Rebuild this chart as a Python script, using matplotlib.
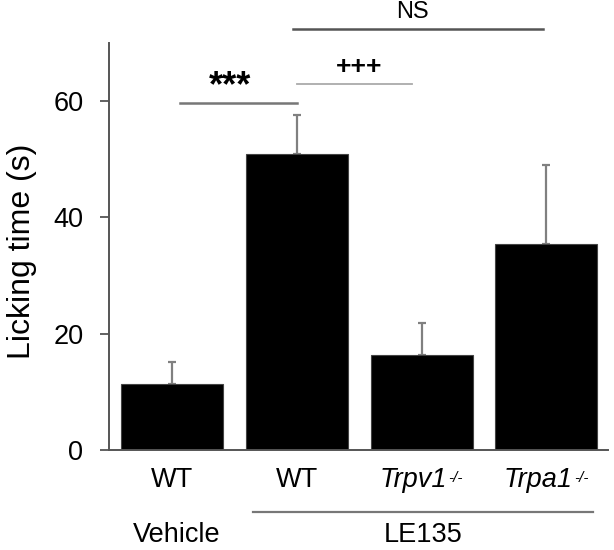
import matplotlib
matplotlib.use('Agg')
import matplotlib.pyplot as plt
import matplotlib.transforms as mtransforms
import numpy as np

plt.rcParams['font.family'] = ['Liberation Sans', 'DejaVu Sans']

# data
genotypes = ['WT', 'WT', 'Trpv1', 'Trpa1']
knockout = [False, False, True, True]
licking_mean = [11.3, 50.8, 16.3, 35.4]
licking_sem = [3.9, 6.7, 5.6, 13.6]
treatments = ['Vehicle', 'LE135']
yticks = [0, 20, 40, 60]

fig = plt.figure(figsize=(6.14, 5.5), dpi=100)
ax = fig.add_axes([109/614, 1 - 450/550, 499/614, 407.3/550])

x = np.arange(len(licking_mean))
ax.bar(x, licking_mean, width=0.817, color='black', edgecolor='#444444', linewidth=0.8, zorder=2)
ax.errorbar(x, licking_mean, yerr=[np.zeros(len(x)), licking_sem], fmt='none',
            ecolor='#808080', elinewidth=1.6, capsize=2.8, capthick=1.6, zorder=1)

ax.set_xlim(-0.505, 3.494)
ax.set_ylim(0, 70)
ax.set_yticks(yticks)
ax.set_xticks([])
ax.tick_params(axis='y', length=6.5, width=1.3, color='#555555', pad=12, labelsize=19.5)
for s in ['top', 'right']:
    ax.spines[s].set_visible(False)
for s in ['left', 'bottom']:
    ax.spines[s].set_color('#555555')
    ax.spines[s].set_linewidth(1.4)
ax.set_ylabel('Licking time (s)', fontsize=23)
ax.yaxis.label.set_va('center')
ax.yaxis.set_label_coords(-0.174, 0.487)

trans = ax.get_xaxis_transform()

# genotype labels, knockouts in italics with a small -/- superscript
for xi, name, ko in zip(x, genotypes, knockout):
    if ko:
        t = ax.text(xi, -0.0908, name, transform=mtransforms.offset_copy(trans, fig=fig, x=-6, units='points'),
                    ha='center', va='baseline', fontsize=19.5, style='italic')
        ax.annotate('-/-', xy=(1, 1), xycoords=t, xytext=(1, -3), textcoords='offset points',
                    ha='left', va='top', fontsize=11, style='italic')
    else:
        ax.text(xi, -0.0908, name, transform=trans, ha='center', va='baseline', fontsize=19.5)

# significance markers
ax.plot([0.064, 1.0], [59.6, 59.6], color='#777777', lw=1.8, clip_on=False)
ax.text(0.465, 62.5, '***', ha='center', va='center', fontsize=26, fontweight='bold')
ax.plot([1.0, 1.923], [62.9, 62.9], color='#aaaaaa', lw=1.3, clip_on=False)
ax.text(1.5, 65.8, '+++', ha='center', va='center', fontsize=19, fontweight='bold')
ax.plot([0.97, 2.97], [72.3, 72.3], color='#555555', lw=1.8, clip_on=False)
ax.text(1.923, 75.2, 'NS', ha='center', va='center', fontsize=17)

# treatment groups below the axis
ax.text(0.04, -0.2259, treatments[0], transform=trans, ha='center', va='baseline', fontsize=19.5)
ax.plot([0.649, 3.373], [-0.152, -0.152], transform=trans, color='#777777', lw=1.6, clip_on=False)
ax.text(2.011, -0.2259, treatments[1], transform=trans, ha='center', va='baseline', fontsize=19.5)

fig.savefig('out.png', dpi=100)
